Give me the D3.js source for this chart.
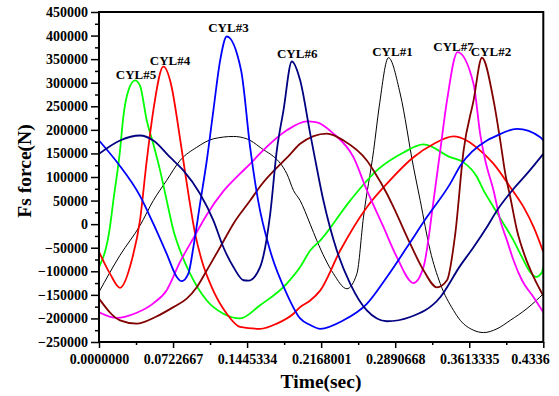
<!DOCTYPE html>
<html>

<head>
    <meta charset="utf-8">
    <title>Fs force</title>
    <script src="https://d3js.org/d3.v7.min.js"></script>
    <style>
    body {
        margin: 0;
        background: #fff;
    }

    svg.chart {
        display: block;
    }

    text {
        font-family: "Liberation Serif", "Times New Roman", serif;
        font-weight: bold;
        fill: #000;
    }

    g.axis text {
        font-size: 14px;
    }

    g.axis line {
        stroke: #000;
        stroke-width: 1.5;
    }

    g.axis path.domain {
        stroke-opacity: 0;
    }

    text.title {
        font-size: 19.5px;
    }

    text.cyl {
        font-size: 13px;
    }

    path.line {
        fill: none;
        stroke-linejoin: round;
    }
    </style>
</head>

<body>
    <svg id="chart" class="chart" width="559" height="396"></svg>
    <script>
    // [time (sec), Fs force (N)]
    let cyl1 = [[0, -144000], [0.0205, -66000], [0.0400, -3000], [0.0530, 50000], [0.0661, 93000], [0.0791, 135000], [0.0954, 163000], [0.1116, 181000], [0.1312, 186000], [0.1442, 181000], [0.1572, 163000], [0.1833, 107000], [0.1898, 71500], [0.1963, 50000], [0.2061, 0], [0.2126, -35000], [0.2288, -105000], [0.2419, -137000], [0.2517, -105000], [0.2581, 15000], [0.2680, 156000], [0.2735, 250000], [0.2825, 353000], [0.2940, 276000], [0.3069, 121000], [0.3135, 50000], [0.3232, -56000], [0.3330, -126000], [0.3460, -183000], [0.3526, -204000], [0.3655, -225000], [0.3753, -230000], [0.3884, -222000], [0.4014, -204000], [0.4177, -179000], [0.4336, -148000]];
    let cyl2 = [[0, -158000], [0.0205, -204000], [0.0368, -211000], [0.0551, -197000], [0.0726, -176000], [0.0856, -158000], [0.0954, -134000], [0.1052, -98000], [0.1182, -49000], [0.1312, 1000], [0.1475, 50000], [0.1572, 80000], [0.1865, 148000], [0.1963, 170500], [0.2224, 192000], [0.2386, 177500], [0.2614, 135000], [0.2679, 114000], [0.2810, 64500], [0.2874, 36000], [0.3037, -41500], [0.3167, -98000], [0.3298, -134000], [0.3396, -119000], [0.3477, -20000], [0.3558, 156000], [0.3655, 262000], [0.3737, 353000], [0.3851, 262000], [0.3916, 177000], [0.3965, 107000], [0.4014, 57000], [0.4079, -13000], [0.4160, -70000], [0.4241, -112000], [0.4336, -152000]];
    let cyl3 = [[0, 177500], [0.0188, 128000], [0.0400, 60000], [0.0530, 1000], [0.0661, -63000], [0.0759, -112000], [0.0807, -121000], [0.0872, -105000], [0.0921, -49000], [0.0986, 43000], [0.1052, 135000], [0.1116, 241000], [0.1182, 347000], [0.1247, 398000], [0.1387, 326000], [0.1475, 163000], [0.1553, 50000], [0.1670, -56000], [0.1833, -148000], [0.1963, -200000], [0.2061, -214000], [0.2158, -222000], [0.2386, -204000], [0.2614, -169000], [0.2810, -112000], [0.3005, -49000], [0.3200, 15000], [0.3428, 86000], [0.3526, 124000], [0.3786, 177500], [0.3851, 184500], [0.4079, 202000], [0.4307, 184500], [0.4336, 177500]];
    let cyl4 = [[0, -59000], [0.0107, -105000], [0.0205, -135000], [0.0319, -77000], [0.0400, 8000], [0.0466, 135000], [0.0530, 241000], [0.0628, 334000], [0.0710, 290000], [0.0774, 206000], [0.0823, 135000], [0.0872, 64500], [0.0938, -20000], [0.1003, -77000], [0.1101, -134000], [0.1247, -190000], [0.1377, -218000], [0.1572, -222000], [0.1735, -211000], [0.1898, -190000], [0.1963, -176000], [0.2061, -162000], [0.2158, -141000], [0.2354, -56000], [0.2614, 36000], [0.2810, 86000], [0.3069, 142000], [0.3265, 170000], [0.3460, 186000], [0.3591, 177000], [0.3721, 156000], [0.3851, 128000], [0.4014, 78500], [0.4144, 36000], [0.4241, -6000], [0.4336, -59000]];
    let cyl5 = [[0, -91000], [0.0107, -6000], [0.0140, 50000], [0.0205, 156000], [0.0237, 227000], [0.0286, 283000], [0.0352, 305000], [0.0400, 294000], [0.0466, 220000], [0.0530, 170000], [0.0596, 114000], [0.0661, 50000], [0.0726, -13000], [0.0791, -56000], [0.0889, -105000], [0.1052, -162000], [0.1214, -190000], [0.1377, -200000], [0.1572, -172000], [0.1833, -126000], [0.1963, -91000], [0.2061, -56000], [0.2158, -35000], [0.2451, 50000], [0.2712, 114000], [0.2972, 152000], [0.3167, 169000], [0.3428, 142000], [0.3558, 131000], [0.3689, 100000], [0.3753, 71500], [0.3851, 36000], [0.3948, 1000], [0.4046, -35000], [0.4128, -70000], [0.4209, -102000], [0.4267, -112000], [0.4323, -102000], [0.4336, -91000]];
    let cyl6 = [[0, 149000], [0.0205, 177500], [0.0400, 188000], [0.0530, 177500], [0.0693, 142000], [0.0823, 114000], [0.0986, 64500], [0.1116, 8000], [0.1214, -49000], [0.1312, -91000], [0.1410, -119000], [0.1458, -120000], [0.1572, -91000], [0.1670, 20000], [0.1735, 156000], [0.1800, 241000], [0.1882, 345000], [0.1963, 305000], [0.2061, 192000], [0.2093, 156000], [0.2190, 50000], [0.2321, -56000], [0.2451, -126000], [0.2614, -183000], [0.2810, -206000], [0.3037, -197000], [0.3330, -155000], [0.3526, -88000], [0.3655, -49000], [0.3786, -6000], [0.3884, 29000], [0.4046, 75000], [0.4177, 107000], [0.4336, 149000]];
    let cyl7 = [[0, -187000], [0.0173, -199000], [0.0368, -188000], [0.0530, -168000], [0.0661, -140000], [0.0791, -80000], [0.0921, -30000], [0.1052, 20000], [0.1214, 70000], [0.1377, 107000], [0.1475, 128000], [0.1572, 150000], [0.1833, 199000], [0.2028, 218000], [0.2126, 216000], [0.2288, 192000], [0.2483, 142000], [0.2614, 72000], [0.2776, -6000], [0.2907, -70000], [0.3069, -125000], [0.3167, -91000], [0.3265, 50000], [0.3330, 156000], [0.3396, 262000], [0.3499, 365000], [0.3655, 298000], [0.3721, 190000], [0.3770, 135000], [0.3851, 71000], [0.3916, 8000], [0.3982, -35000], [0.4046, -77000], [0.4128, -119000], [0.4241, -155000], [0.4336, -187000]];

    let xTicks = [0, 0.0722667, 0.1445334, 0.2168001, 0.2890668, 0.3613335, 0.4336];
    let xTickLabels = ['0.0000000', '0.0722667', '0.1445334', '0.2168001', '0.2890668', '0.3613335', '0.4336'];
    let yTicks = [-250000, -200000, -150000, -100000, -50000, 0, 50000, 100000, 150000, 200000, 250000, 300000, 350000, 400000, 450000];

    // peak labels, anchored in data units
    let cylNames = ['CYL#5', 'CYL#4', 'CYL#3', 'CYL#6', 'CYL#1', 'CYL#7', 'CYL#2'];
    let cylLabelTime = [0.0361, 0.0693, 0.1263, 0.1934, 0.2864, 0.3460, 0.3825];
    let cylLabelForce = [308000, 337000, 407000, 353000, 356000, 367000, 356000];

    let series = [
        { data: cyl1, color: '#000000', width: 1 },
        { data: cyl5, color: '#00ff00', width: 1.8 },
        { data: cyl4, color: '#ff0000', width: 1.8 },
        { data: cyl7, color: '#ff00ff', width: 1.8 },
        { data: cyl2, color: '#800000', width: 1.8 },
        { data: cyl3, color: '#0000ff', width: 1.8 },
        { data: cyl6, color: '#000080', width: 1.8 },
    ];

    let margin = { top: 12, right: 15.7, bottom: 54, left: 99 };
    let svg = d3.select('svg#chart');
    let width = 559 - margin.left - margin.right;
    let height = 396 - margin.top - margin.bottom;

    let x_scale = d3.scaleLinear()
        .domain([0, 0.4336])
        .range([0, width]);
    let y_scale = d3.scaleLinear()
        .domain([-250000, 450000])
        .range([height, 0]);

    let g = svg.append('g')
        .attr('transform', 'translate(' + margin.left + ',' + margin.top + ')');

    g.append('clipPath')
        .attr('id', 'clip')
        .append('rect')
        .attr('width', width)
        .attr('height', height);

    // minor ticks
    let xMinor = d3.pairs(xTicks).map(function(p) { return (p[0] + p[1]) / 2; });
    let yMinor = d3.pairs(yTicks).map(function(p) { return (p[0] + p[1]) / 2; });

    g.append('g')
        .classed('axis', true)
        .attr('transform', 'translate(0,' + height + ')')
        .call(d3.axisBottom(x_scale).tickValues(xMinor).tickSize(3).tickFormat(''));
    g.append('g')
        .classed('axis', true)
        .call(d3.axisLeft(y_scale).tickValues(yMinor).tickSize(4).tickFormat(''));

    let x_axis = g.append('g')
        .classed('axis', true)
        .attr('transform', 'translate(0,' + height + ')')
        .call(d3.axisBottom(x_scale)
            .tickValues(xTicks)
            .tickSize(6)
            .tickPadding(6)
            .tickFormat(function(d, i) { return xTickLabels[i]; }));

    // last label is pulled in so it fits inside the picture
    x_axis.selectAll('g.tick text')
        .filter(function(d, i) { return i == xTicks.length - 1; })
        .attr('text-anchor', 'end')
        .attr('x', 6);

    g.append('g')
        .classed('axis', true)
        .call(d3.axisLeft(y_scale)
            .tickValues(yTicks)
            .tickSize(8)
            .tickPadding(3)
            .tickFormat(d3.format('d')));

    let line = d3.line()
        .curve(d3.curveMonotoneX)
        .x(function(d) { return x_scale(d[0]); })
        .y(function(d) { return y_scale(d[1]); });

    g.append('g')
        .attr('clip-path', 'url(#clip)')
        .selectAll('path')
        .data(series)
        .enter()
        .append('path')
        .classed('line', true)
        .attr('stroke', function(d) { return d.color; })
        .attr('stroke-width', function(d) { return d.width; })
        .attr('d', function(d) { return line(d.data); });

    // frame
    g.append('rect')
        .attr('width', width)
        .attr('height', height)
        .attr('fill', 'none')
        .attr('stroke', '#000')
        .attr('stroke-width', 2);

    g.selectAll('text.cyl')
        .data(cylNames)
        .enter()
        .append('text')
        .classed('cyl', true)
        .attr('text-anchor', 'middle')
        .attr('x', function(d, i) { return x_scale(cylLabelTime[i]); })
        .attr('y', function(d, i) { return y_scale(cylLabelForce[i]); })
        .text(function(d) { return d; });

    svg.append('text')
        .classed('title', true)
        .attr('text-anchor', 'middle')
        .attr('x', 321)
        .attr('y', 388)
        .text('Time(sec)');

    svg.append('text')
        .classed('title', true)
        .attr('text-anchor', 'middle')
        .attr('transform', 'translate(31,171) rotate(-90)')
        .text('Fs force(N)');
    </script>
</body>

</html>
